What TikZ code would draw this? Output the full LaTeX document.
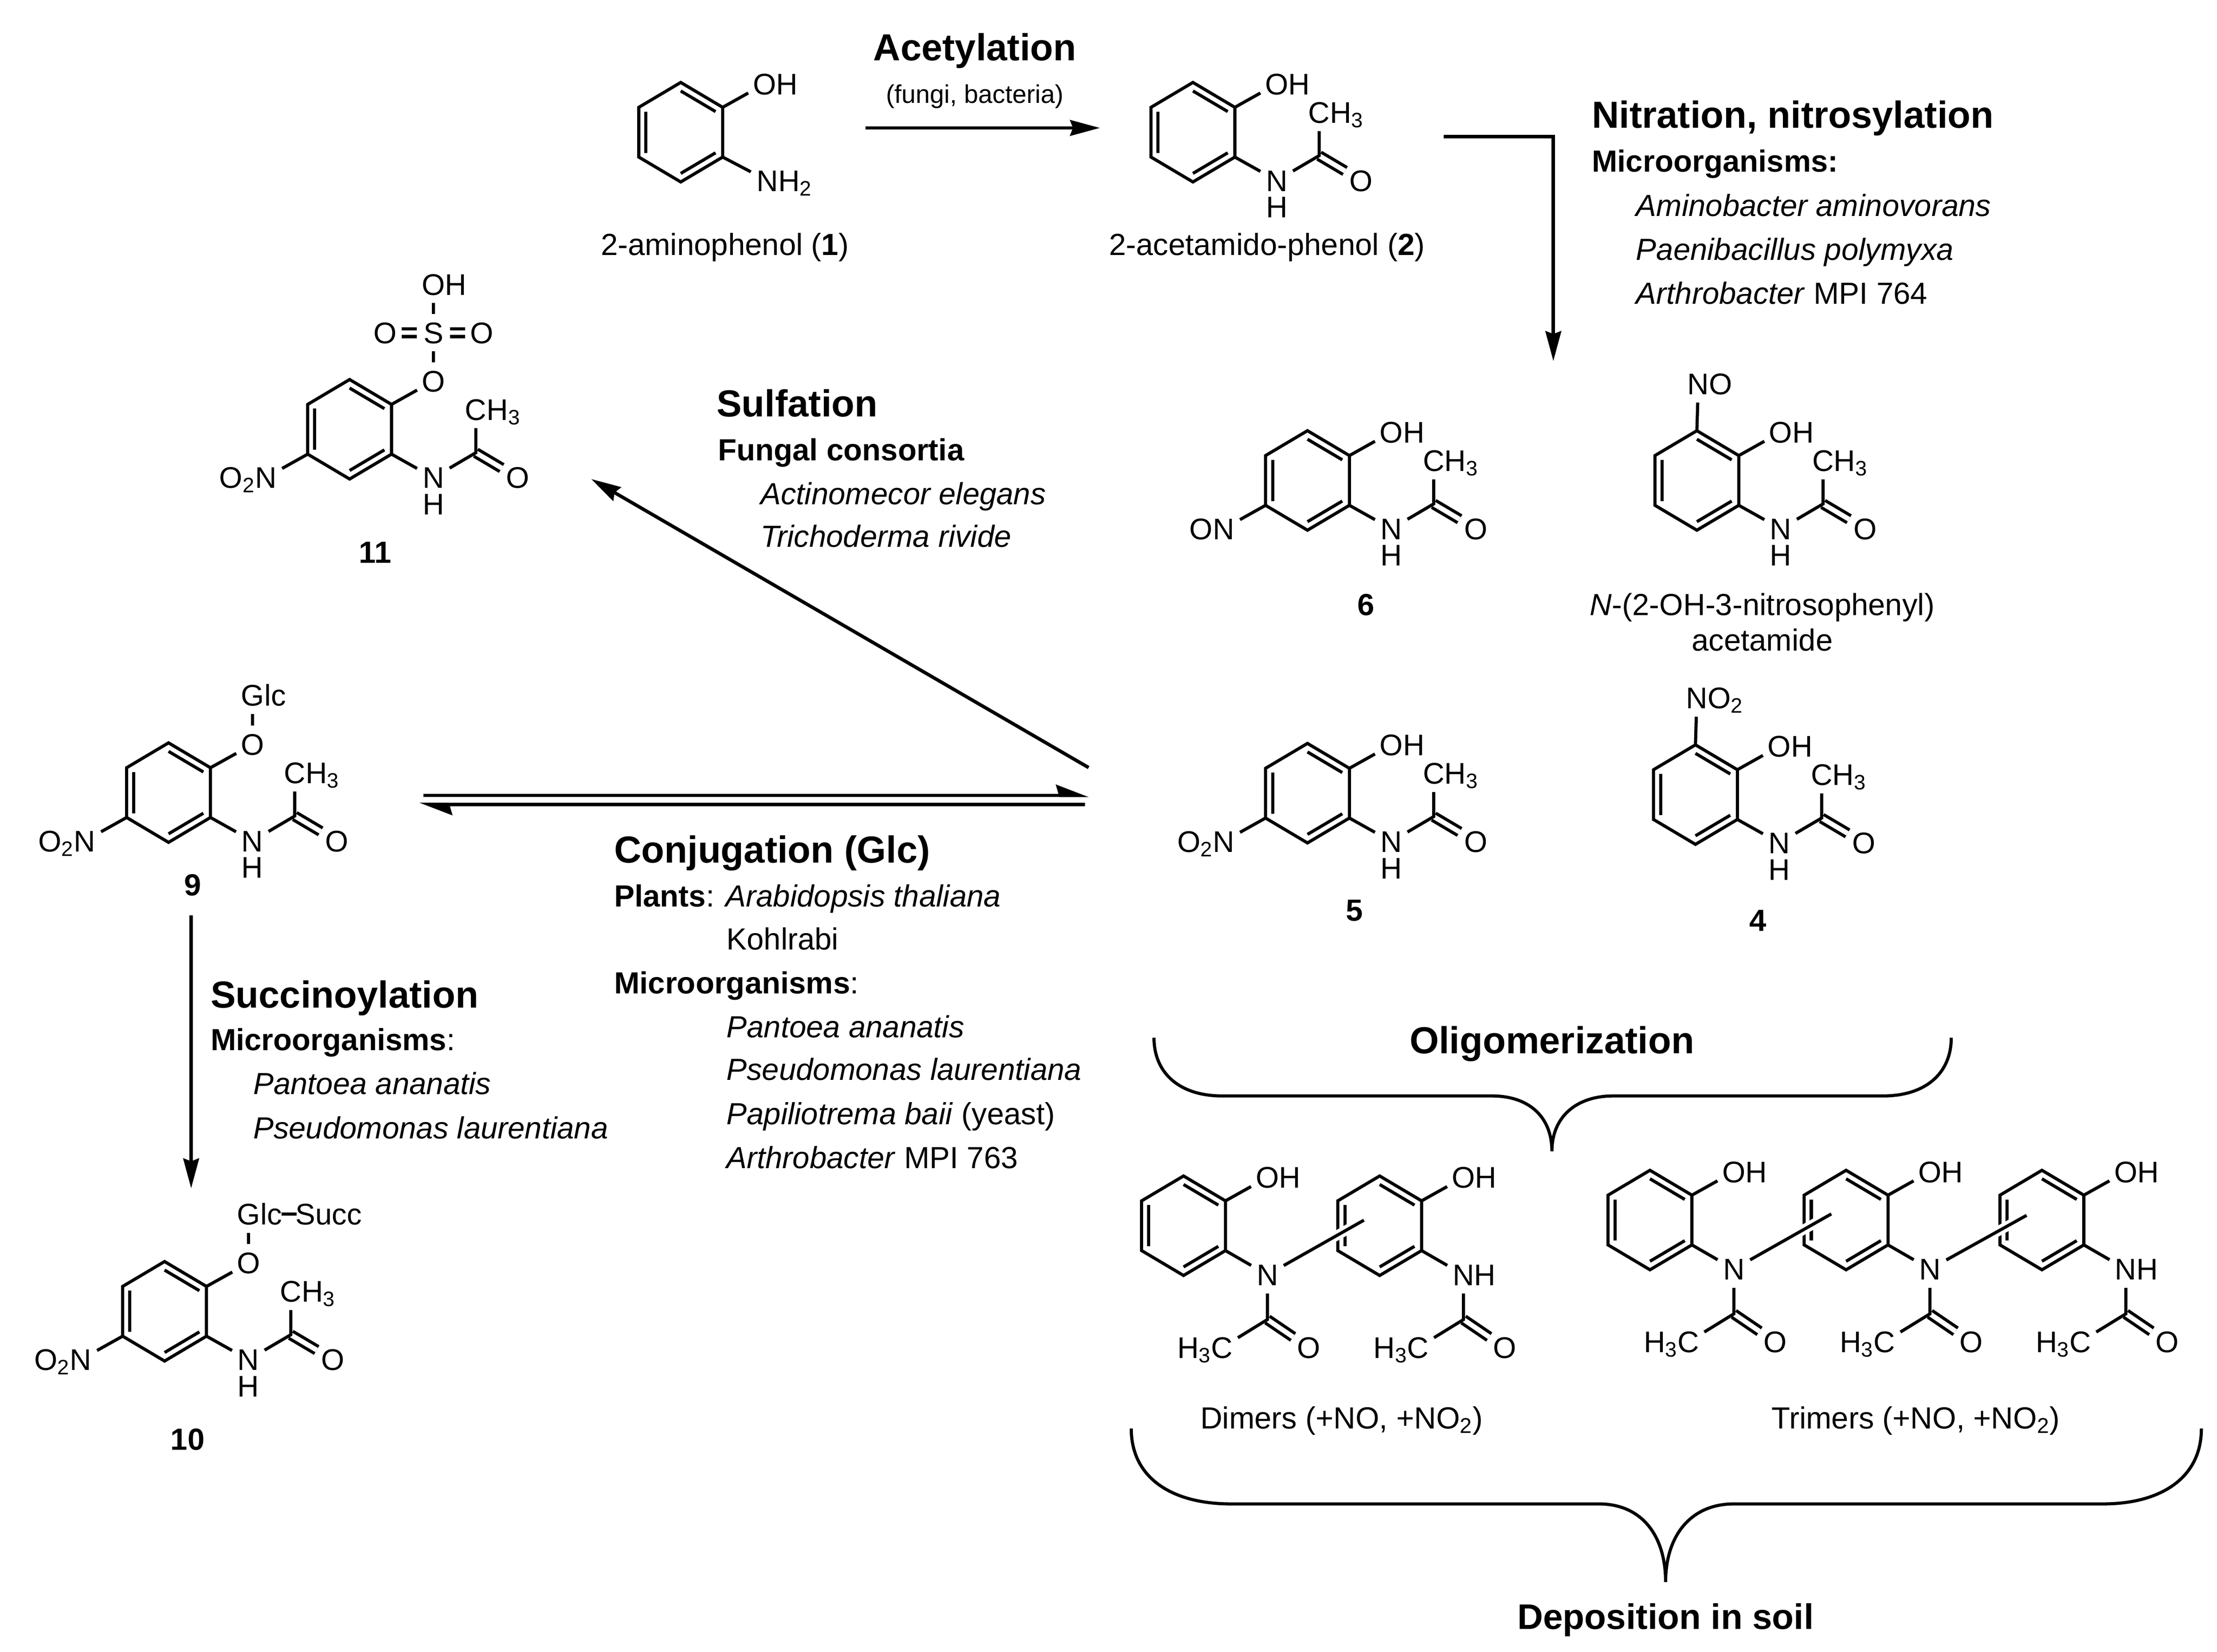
\documentclass[tikz,border=0pt]{standalone}
\usepackage{fontspec}
\setmainfont{Liberation Sans}
\usetikzlibrary{calc, arrows.meta}

\tikzset{
	bond/.style={line width=2.2pt, line join=miter},
	dbl/.style={line width=2.2pt, double, double distance=3.4pt},
	halo/.style={line width=2.2pt, preaction={draw, white, line width=7pt}},
	arrow/.style={line width=2.4pt, -{Stealth[length=21pt, width=11pt, inset=2pt]}},
	harp/.style={line width=2.4pt, -{Stealth[harpoon, length=20pt, width=15pt, inset=2pt]}},
	brace/.style={line width=2.2pt},
	atom/.style={circle, inner sep=0pt, minimum size=26pt, text height=15pt, text depth=0pt, font=\fontsize{21}{24}\selectfont},
	txt/.style={anchor=base west, inner sep=0pt, font=\fontsize{21.5}{25}\selectfont},
	ctxt/.style={txt, anchor=base},
	head/.style={anchor=base west, inner sep=0pt, font=\fontsize{26.5}{30}\selectfont\bfseries},
	chead/.style={head, anchor=base},
	% benzene ring, upright, origin in its centre
	ring/.pic={
		\coordinate (-t) at (0,-35);
		\coordinate (-ur) at (29.5,-17.5);
		\coordinate (-lr) at (29.5,17.5);
		\coordinate (-b) at (0,35);
		\coordinate (-ll) at (-29.5,17.5);
		\coordinate (-ul) at (-29.5,-17.5);
		\draw[bond] (-t) -- (-ur) -- (-lr) -- (-b) -- (-ll) -- (-ul) -- cycle;
		\draw[bond] (0,-29) -- (24.5,-14.5);
		\draw[bond] (-24.5,-14.5) -- (-24.5,14.5);
		\draw[bond] (0,29) -- (24.5,14.5);
	},
	hydroxy/.pic={
		\coordinate (-ur) at (29.5,-17.5);
		\node[atom] (-o) at (59,-34) {O\rlap{H}};
		\draw[bond] (-ur) -- (-o);
	},
	% NH-CO-CH3 on the lower right corner
	acetamide/.pic={
		\coordinate (-lr) at (29.5,17.5);
		\coordinate (-c) at (88.8,16.5);
		\node[atom] (-n) at (59,34) {N};
		\node[atom] (-h) at (59,52.6) {H};
		\node[atom] (-me) at (88.8,-14) {C\rlap{H\textsubscript{3}}};
		\node[atom] (-co) at (118.4,34) {O};
		\draw[dbl] (-c) -- (-co);
		\draw[bond] (-lr) -- (-n);
		\draw[bond] (-n) -- (-c) -- (-me);
	},
	% same group turned downwards, as in the oligomers
	downamide/.pic={
		\coordinate (-lr) at (29.5,17.5);
		\coordinate (-c) at (59,66);
		\node[atom] (-n) at (59,34.5) {#1};
		\node[atom] (-me) at (27,85.7) {\llap{H\textsubscript{3}}C};
		\node[atom] (-co) at (88,85.7) {O};
		\draw[dbl] (-c) -- (-co);
		\draw[bond] (-lr) -- (-n);
		\draw[bond] (-n) -- (-c) -- (-me);
	},
	% group on the lower left corner, #1 is the label
	nitro/.pic={
		\coordinate (-ll) at (-29.5,17.5);
		\node[atom] (-no) at (-59,34) {#1};
		\draw[bond] (-ll) -- (-no);
	},
}

\begin{document}
\begin{tikzpicture}[x=1pt, y=-1pt]
	\useasboundingbox (0,0) rectangle (1560,1162);

	% top row
	\pic (a) at (479,93) {ring};
	\pic (aoh) at (479,93) {hydroxy};
	\node[atom] (anh) at (540,127) {N\rlap{H\textsubscript{2}}};
	\draw[bond] (a-lr) -- (anh);
	\node[ctxt] (aname) at (510,179.5) {2-aminophenol (\textbf{1})};

	\pic (b) at (839.4,93) {ring};
	\pic (boh) at (839.4,93) {hydroxy};
	\pic (bam) at (839.4,93) {acetamide};
	\node[ctxt] (bname) at (891.5,179.5) {2-acetamido-phenol (\textbf{2})};

	\coordinate (acstart) at (609,90);
	\coordinate (acend) at (774,90);
	\draw[arrow] (acstart) -- (acend);
	\node[chead] (achead) at (686,42.5) {Acetylation};
	\node[anchor=base, inner sep=0pt, font=\fontsize{18}{20}\selectfont] (acsub) at (686,72.5) {(fungi, bacteria)};

	\coordinate (nistart) at (1016,96);
	\coordinate (niend) at (1093,254);
	\draw[arrow] (nistart) -| (niend);
	\node[head] (nihead) at (1120,90) {Nitration, nitrosylation};
	\node[txt] (nimic) at (1120,121) {\textbf{Microorganisms:}};
	\node[txt] (ni1) at (1151,152) {\textit{Aminobacter aminovorans}};
	\node[txt] (ni2) at (1151,183) {\textit{Paenibacillus polymyxa}};
	\node[txt] (ni3) at (1151,214) {\textit{Arthrobacter} MPI 764};

	% sulfate 11
	\pic (k) at (246,302) {ring};
	\pic (kam) at (246,302) {acetamide};
	\pic (kno) at (246,302) {nitro={\llap{O\textsubscript{2}}N}};
	\node[atom] (ko) at (305,268) {O};
	\node[atom] (ks) at (305,234) {S};
	\node[atom] (koh) at (305,200) {O\rlap{H}};
	\node[atom] (kol) at (271,234) {O};
	\node[atom] (kor) at (339,234) {O};
	\draw[bond] (k-ur) -- (ko);
	\draw[bond] (ko) -- (ks);
	\draw[bond] (ks) -- (koh);
	\draw[dbl, shorten <=-1.5pt, shorten >=-1.5pt] (ks) -- (kol);
	\draw[dbl, shorten <=-1.5pt, shorten >=-1.5pt] (ks) -- (kor);
	\node[ctxt, font=\fontsize{21.5}{25}\selectfont\bfseries] (kname) at (264,396) {11};

	\coordinate (sustart) at (766,540);
	\coordinate (suend) at (416,337);
	\draw[arrow] (sustart) -- (suend);
	\node[head] (suhead) at (504,293) {Sulfation};
	\node[txt] (sufun) at (505,324) {\textbf{Fungal consortia}};
	\node[txt] (su1) at (535,355) {\textit{Actinomecor elegans}};
	\node[txt] (su2) at (535,385) {\textit{Trichoderma rivide}};

	% nitroso compounds
	\pic (f) at (920,338) {ring};
	\pic (foh) at (920,338) {hydroxy};
	\pic (fam) at (920,338) {acetamide};
	\pic (fno) at (920,338) {nitro={\llap{O}N}};
	\node[ctxt, font=\fontsize{21.5}{25}\selectfont\bfseries] (fname) at (961,433) {6};

	\pic (n) at (1194,338) {ring};
	\pic (noh) at (1194,338) {hydroxy};
	\pic (nam) at (1194,338) {acetamide};
	\node[atom] (nno) at (1195,270) {N\rlap{O}};
	\draw[bond] (n-t) -- (nno);
	\node[ctxt] (nname) at (1240,433) {\textit{N}-(2-OH-3-nitrosophenyl)};
	\node[ctxt] (nname2) at (1240,458) {acetamide};

	% nitro compounds
	\pic (e) at (920,558) {ring};
	\pic (eoh) at (920,558) {hydroxy};
	\pic (eam) at (920,558) {acetamide};
	\pic (eno) at (920,558) {nitro={\llap{O\textsubscript{2}}N}};
	\node[ctxt, font=\fontsize{21.5}{25}\selectfont\bfseries] (ename) at (953,648) {5};

	\pic (d) at (1193,559) {ring};
	\pic (doh) at (1193,559) {hydroxy};
	\pic (dam) at (1193,559) {acetamide};
	\node[atom] (dno) at (1194,491) {N\rlap{O\textsubscript{2}}};
	\draw[bond] (d-t) -- (dno);
	\node[ctxt, font=\fontsize{21.5}{25}\selectfont\bfseries] (dname) at (1237,655) {4};

	% glucoside 9
	\pic (i) at (118.6,557.6) {ring};
	\pic (iam) at (118.6,557.6) {acetamide};
	\pic (ino) at (118.6,557.6) {nitro={\llap{O\textsubscript{2}}N}};
	\node[atom] (io) at (177.8,523.6) {O};
	\node[atom] (iglc) at (177.8,489) {G\rlap{lc}};
	\draw[bond] (i-ur) -- (io);
	\draw[bond] (io) -- (iglc);
	\node[ctxt, font=\fontsize{21.5}{25}\selectfont\bfseries] (iname) at (135.7,630) {9};

	\coordinate (coup) at (298,559.6);
	\coordinate (coupend) at (766.3,559.6);
	\coordinate (codown) at (763.6,565.9);
	\coordinate (codownend) at (295,565.9);
	\draw[harp] (coup) -- (coupend);
	\draw[harp] (codown) -- (codownend);
	\node[head] (cohead) at (432,607) {Conjugation (Glc)};
	\node[txt] (co1) at (432,638) {\textbf{Plants}: \textit{Arabidopsis thaliana}};
	\node[txt] (co2) at (511,668) {Kohlrabi};
	\node[txt] (co3) at (432,699) {\textbf{Microorganisms}:};
	\node[txt] (co4) at (511,730) {\textit{Pantoea ananatis}};
	\node[txt] (co5) at (511,760) {\textit{Pseudomonas laurentiana}};
	\node[txt] (co6) at (511,791) {\textit{Papiliotrema baii} (yeast)};
	\node[txt] (co7) at (511,822) {\textit{Arthrobacter} MPI 763};

	% succinate 10
	\coordinate (scstart) at (134.5,644);
	\coordinate (scend) at (134.5,836);
	\draw[arrow] (scstart) -- (scend);
	\node[head] (schead) at (148,709) {Succinoylation};
	\node[txt] (sc0) at (148,739) {\textbf{Microorganisms}:};
	\node[txt] (sc1) at (178,770) {\textit{Pantoea ananatis}};
	\node[txt] (sc2) at (178,801) {\textit{Pseudomonas laurentiana}};

	\pic (j) at (115.8,922.5) {ring};
	\pic (jam) at (115.8,922.5) {acetamide};
	\pic (jno) at (115.8,922.5) {nitro={\llap{O\textsubscript{2}}N}};
	\node[atom] (jo) at (175,888.5) {O};
	\node[atom] (jglc) at (175,854) {G\rlap{lc}};
	\node[atom] (jsucc) at (215,854) {S\rlap{ucc}};
	\draw[bond] (j-ur) -- (jo);
	\draw[bond] (jo) -- (jglc);
	\draw[bond, shorten <=-2pt, shorten >=-7pt] ([xshift=12pt]jglc.east) -- (jsucc);
	\node[ctxt, font=\fontsize{21.5}{25}\selectfont\bfseries] (jname) at (132,1020) {10};

	% oligomers
	\node[chead] (olhead) at (1092,741) {Oligomerization};
	\draw[brace] (812,730) .. controls (812,755) and (830,771) .. (860,771) -- (1050,771)
		.. controls (1075,771) and (1092,785) .. (1092,810)
		.. controls (1092,785) and (1110,771) .. (1135,771) -- (1325,771)
		.. controls (1355,771) and (1373,755) .. (1373,730);

	\pic (p) at (832.8,862.3) {ring};
	\pic (poh) at (832.8,862.3) {hydroxy};
	\pic (pam) at (832.8,862.3) {downamide={N}};
	\pic (q) at (970.8,862.3) {ring};
	\pic (qoh) at (970.8,862.3) {hydroxy};
	\pic (qam) at (970.8,862.3) {downamide={N\rlap{H}}};
	\coordinate (pqend) at (959.7,858.4);
	\draw[halo] (pam-n) -- (pqend);
	\node[ctxt] (dimers) at (944,1005) {Dimers (+NO, +NO\textsubscript{2})};

	\pic (u) at (1161,858.3) {ring};
	\pic (uoh) at (1161,858.3) {hydroxy};
	\pic (uam) at (1161,858.3) {downamide={N}};
	\pic (v) at (1299,858.3) {ring};
	\pic (voh) at (1299,858.3) {hydroxy};
	\pic (vam) at (1299,858.3) {downamide={N}};
	\pic (w) at (1436.8,858.3) {ring};
	\pic (woh) at (1436.8,858.3) {hydroxy};
	\pic (wam) at (1436.8,858.3) {downamide={N\rlap{H}}};
	\coordinate (uvend) at (1288.6,854);
	\coordinate (vwend) at (1426,855);
	\draw[halo] (uam-n) -- (uvend);
	\draw[halo] (vam-n) -- (vwend);
	\node[ctxt] (trimers) at (1348,1005) {Trimers (+NO, +NO\textsubscript{2})};

	\draw[brace] (796,1005) .. controls (796,1040) and (825,1058) .. (866,1058) -- (1125,1058)
		.. controls (1155,1058) and (1172,1080) .. (1172,1113)
		.. controls (1172,1080) and (1190,1058) .. (1220,1058) -- (1480,1058)
		.. controls (1520,1058) and (1549,1040) .. (1549,1005);
	\node[chead, font=\fontsize{25}{30}\selectfont\bfseries] (sohead) at (1172,1146) {Deposition in soil};
\end{tikzpicture}
\end{document}
